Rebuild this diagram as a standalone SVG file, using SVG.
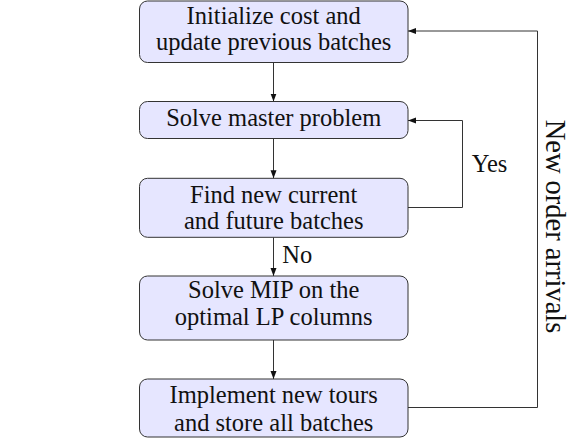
<svg xmlns="http://www.w3.org/2000/svg" width="575" height="442" viewBox="0 0 575 442">
<style>
.box{fill:#e6e6ff;stroke:#333;stroke-width:1}
.t{font-size:24.5px;fill:#111;text-anchor:middle}
.l{font-size:24.5px;fill:#111}
.c{fill:none;stroke:#333;stroke-width:1}
</style>
<defs>
<marker id="ah" markerWidth="10" markerHeight="8" refX="8" refY="4" orient="auto" markerUnits="userSpaceOnUse">
<path d="M0,1 L8,4 L0,7 Z" fill="#111"/>
</marker>
</defs>
<rect width="575" height="442" fill="#fff"/>
<g font-family="'Liberation Serif', 'Times New Roman', Tinos, 'DejaVu Serif', serif">
<g id="connectors">
<path class="c" d="M273.5,62.5 V101.5" marker-end="url(#ah)"/>
<path class="c" d="M273.5,138.5 V178.3" marker-end="url(#ah)"/>
<path class="c" d="M273.5,237.3 V276" marker-end="url(#ah)"/>
<path class="c" d="M273.5,340 V379" marker-end="url(#ah)"/>
<path class="c" d="M408,207.5 H462.5 V120.5 H408" marker-end="url(#ah)"/>
<path class="c" d="M408,407.5 H537.5 V31 H408" marker-end="url(#ah)"/>
<text class="l" x="282.3" y="263.3">No</text>
<text class="l" x="471.7" y="171.7">Yes</text>
<text class="l" x="0" y="0" text-anchor="middle" transform="translate(546,226.5) rotate(90)" style="font-size:28.5px">New order arrivals</text>
</g>
<g id="n1">
<rect class="box" x="139.5" y="1" width="268.5" height="61.5" rx="8"/>
<text class="t" x="273.7" y="24.3">Initialize cost and</text>
<text class="t" x="273.7" y="49.8">update previous batches</text>
</g>
<g id="n2">
<rect class="box" x="139.5" y="101.5" width="268.5" height="37" rx="8"/>
<text class="t" x="273.7" y="126">Solve master problem</text>
</g>
<g id="n3">
<rect class="box" x="139.5" y="178.3" width="268.5" height="59" rx="8"/>
<text class="t" x="273.7" y="203.3">Find new current</text>
<text class="t" x="273.7" y="229">and future batches</text>
</g>
<g id="n4">
<rect class="box" x="139.5" y="276" width="268.5" height="64" rx="8"/>
<text class="t" x="273.7" y="298.3">Solve MIP on the</text>
<text class="t" x="273.7" y="325">optimal LP columns</text>
</g>
<g id="n5">
<rect class="box" x="139.5" y="379" width="268.5" height="58" rx="8"/>
<text class="t" x="273.7" y="403.3">Implement new tours</text>
<text class="t" x="273.7" y="430.5">and store all batches</text>
</g>
</g>
</svg>
